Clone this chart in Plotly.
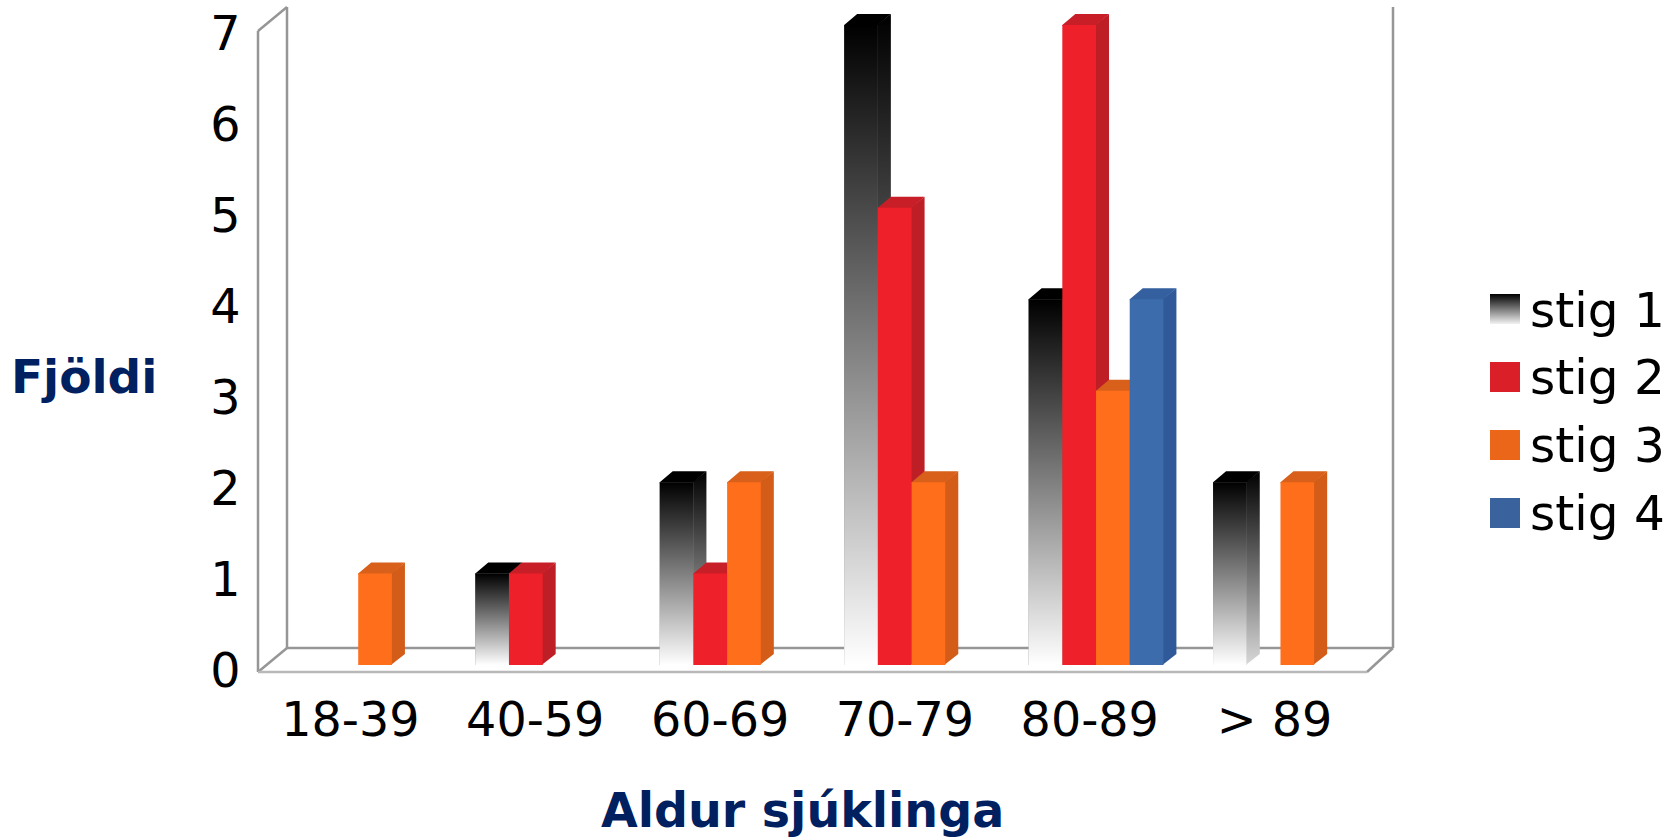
import plotly.graph_objects as go

W, H = 1679, 838

age_groups = ["18-39", "40-59", "60-69", "70-79", "80-89", "> 89"]
series_names = ["stig 1", "stig 2", "stig 3", "stig 4"]
stig_1 = [None, 1, 2, 7, 4, 2]
stig_2 = [None, 1, 1, 5, 7, None]
stig_3 = [1, None, 2, 2, 3, 2]
stig_4 = [None, None, None, None, 4, None]
y_ticks = [0, 1, 2, 3, 4, 5, 6, 7]

series_values = [stig_1, stig_2, stig_3, stig_4]
front_colors = ["#808080", "#EE2029", "#FF6E1B", "#3C6CAC"]
side_colors = [None, "#BE1E25", "#D25C18", "#30599A"]
top_colors = ["#000000", "#C81E27", "#D8601A", "#34609F"]
swatch_colors = [None, "#DB1F28", "#EC661A", "#3A639E"]

FONT = "DejaVu Sans"
TITLE_COLOR = "#00205F"
WALL = "#969696"
FLOOR_FRONT = "#B8B8B8"

# Pixel layout of the box: front plane carries the axes, bars stand a little further back.
FRONT_L, FRONT_R, FRONT_B, FRONT_T = 258, 1367, 672, 31
BACK_L, BACK_R, BACK_B, BACK_T = 287, 1393, 648, 7
AXIS_T, AXIS_B = 33, 670
PITCH = 184.45
UNIT = 91.43
BAR_L = 266
BAR_B = 665
BAR_W = 33.7 / PITCH
DEPTH_X = 13 / PITCH
DEPTH_Y = 11 / UNIT
# Side and top faces run slightly under the front face so no seam shows between them.
TUCK_X = 1 / PITCH
TUCK_Y = 1 / UNIT


def fx(px):
    return px / W


def fy(py):
    return 1 - py / H


def wall_line(x0, y0, x1, y1, color=WALL):
    return dict(type="line", xref="paper", yref="paper", layer="below",
                x0=fx(x0), y0=fy(y0), x1=fx(x1), y1=fy(y1),
                line=dict(color=color, width=2.5))


fig = go.Figure()

# Invisible carrier so the front-plane axes and their tick labels are drawn.
fig.add_trace(go.Scatter(x=list(range(len(age_groups))), y=[0] * len(age_groups),
                         xaxis="x", yaxis="y", mode="markers", marker=dict(opacity=0),
                         hoverinfo="skip", showlegend=False))


def add_face(xs, ys, color=None, gradient=None, z=0):
    kw = dict(fillcolor=color) if gradient is None else dict(fillgradient=gradient)
    fig.add_trace(go.Scatter(x=xs, y=ys, xaxis="x2", yaxis="y2", mode="none",
                             fill="toself", hoverinfo="skip",
                             showlegend=False, zorder=z, **kw))


def vertical(low, high):
    return dict(type="vertical", colorscale=[[0, low], [1, high]])


for k, values in enumerate(series_values):
    fig.add_trace(go.Bar(x=list(range(len(age_groups))), y=values, name=series_names[k],
                         width=BAR_W, offset=(k - 2) * BAR_W, xaxis="x2", yaxis="y2",
                         marker=dict(color=front_colors[k], line=dict(width=0)),
                         showlegend=False, zorder=3 * k + 1))
    for i, v in enumerate(values):
        if v is None:
            continue
        x0 = i + (k - 2) * BAR_W
        x1 = x0 + BAR_W
        xa = x1 - TUCK_X
        xs_front = [x0, x1, x1, x0, x0]
        ys_front = [0, 0, v, v, 0]
        xs_side = [xa, x1 + DEPTH_X, x1 + DEPTH_X, xa, xa]
        ys_side = [0, DEPTH_Y, v + DEPTH_Y, v, 0]
        xs_top = [x0, x0, x0 + DEPTH_X, x1 + DEPTH_X, x1, x1]
        ys_top = [v - TUCK_Y, v, v + DEPTH_Y, v + DEPTH_Y, v, v - TUCK_Y]
        if k == 0:
            add_face(xs_side, ys_side, gradient=vertical("#D8D8D8", "#000000"), z=0)
            add_face(xs_top, ys_top, color=top_colors[k], z=0)
            add_face(xs_front, ys_front, gradient=vertical("#FFFFFF", "#000000"), z=2)
        else:
            add_face(xs_side, ys_side, color=side_colors[k], z=3 * k)
            add_face(xs_top, ys_top, color=top_colors[k], z=3 * k)

# Legend keys, drawn on an axis pair that spans the page in pixels.
KEY_X, KEY_SIZE = 1490, 30
KEY_TOPS = [294, 362, 430, 498]
TEXT_MID = [309.5, 376.5, 444.5, 512.5]
annotations = []
for k, name in enumerate(series_names):
    t = KEY_TOPS[k]
    kw = dict(fillcolor=swatch_colors[k]) if k else dict(fillgradient=vertical("#F2F2F2", "#000000"))
    fig.add_trace(go.Scatter(x=[KEY_X, KEY_X + KEY_SIZE, KEY_X + KEY_SIZE, KEY_X, KEY_X],
                             y=[t, t, t + KEY_SIZE, t + KEY_SIZE, t],
                             xaxis="x3", yaxis="y3", mode="none", fill="toself",
                             hoverinfo="skip", showlegend=False, **kw))
    annotations.append(dict(text=name, xref="paper", yref="paper", x=fx(1528), y=fy(TEXT_MID[k]),
                            xanchor="left", yanchor="middle", showarrow=False,
                            font=dict(family=FONT, size=48.5, color="#000000")))

annotations.append(dict(text="<b>Aldur sjúklinga</b>", xref="paper", yref="paper", x=fx(802), y=fy(810),
                        xanchor="center", yanchor="middle", showarrow=False,
                        font=dict(family=FONT, size=47.5, color=TITLE_COLOR)))
annotations.append(dict(text="<b>Fjöldi</b>", xref="paper", yref="paper", x=fx(84), y=fy(377),
                        xanchor="center", yanchor="middle", showarrow=False,
                        font=dict(family=FONT, size=47, color=TITLE_COLOR)))

shapes = [
    wall_line(FRONT_L, FRONT_T, FRONT_L, FRONT_B),
    wall_line(BACK_L, BACK_T, BACK_L, BACK_B),
    wall_line(FRONT_L, FRONT_T, BACK_L, BACK_T),
    wall_line(FRONT_L, FRONT_B, BACK_L, BACK_B),
    wall_line(BACK_L, BACK_B, BACK_R, BACK_B),
    wall_line(BACK_R, BACK_T, BACK_R, BACK_B),
    wall_line(BACK_R, BACK_B, FRONT_R, FRONT_B),
    wall_line(FRONT_L, FRONT_B, FRONT_R, FRONT_B, FLOOR_FRONT),
]

tick_font = dict(family=FONT, size=47.6, color="#000000")
n = len(age_groups)
bar_right = BAR_L + n * PITCH

fig.update_layout(
    width=W, height=H, autosize=False,
    margin=dict(l=0, r=0, t=0, b=0),
    paper_bgcolor="#FFFFFF", plot_bgcolor="rgba(0,0,0,0)",
    barmode="overlay", showlegend=False,
    shapes=shapes, annotations=annotations,
    xaxis=dict(domain=[fx(FRONT_L), fx(FRONT_R)], range=[-0.5, n - 0.5], anchor="y", automargin=False,
               tickmode="array", tickvals=list(range(n)), ticktext=age_groups,
               tickfont=tick_font, ticks="outside", ticklen=8, tickcolor="rgba(0,0,0,0)",
               showgrid=False, zeroline=False, showline=False, fixedrange=True),
    yaxis=dict(domain=[fy(AXIS_B), fy(AXIS_T)], range=[0, 7], anchor="x", automargin=False,
               tickmode="array", tickvals=y_ticks, tickfont=tick_font,
               ticks="outside", ticklen=7, tickcolor="rgba(0,0,0,0)",
               showgrid=False, zeroline=False, showline=False, fixedrange=True),
    xaxis2=dict(domain=[fx(BAR_L), min(1, fx(bar_right))], range=[-0.5, n - 0.5], anchor="y2",
                visible=False, fixedrange=True, automargin=False),
    yaxis2=dict(domain=[fy(BAR_B), 1], range=[0, BAR_B / UNIT], anchor="x2",
                visible=False, fixedrange=True, automargin=False),
    xaxis3=dict(domain=[0, 1], range=[0, W], anchor="y3", visible=False, fixedrange=True, automargin=False),
    yaxis3=dict(domain=[0, 1], range=[H, 0], anchor="x3", visible=False, fixedrange=True, automargin=False),
)

fig.write_html("out.html", config=dict(displayModeBar=False))
